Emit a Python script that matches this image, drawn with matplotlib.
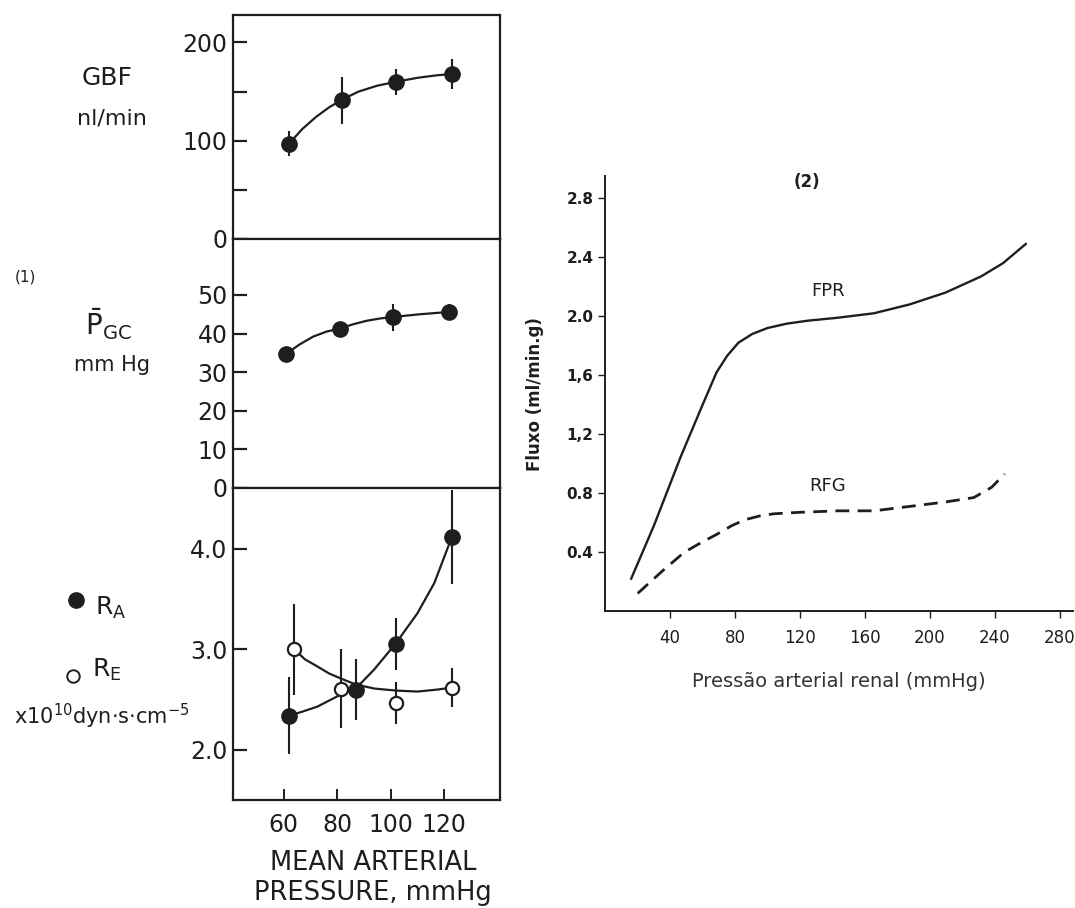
import matplotlib
matplotlib.use("Agg")
import matplotlib.pyplot as plt
from matplotlib.lines import Line2D

plt.rcParams["font.family"] = ["DejaVu Sans"]
plt.rcParams["mathtext.fontset"] = "dejavusans"

inkColor = "#1e1e1e"

# -----------------------------
# Data
# -----------------------------
# Panel (1): glomerular measurements vs mean arterial pressure
gbfPressure = [62, 82, 102, 123]
gbfValue = [97, 141, 160, 168]
gbfError = [13, 24, 13, 15]
gbfCurvePressure = [62, 67, 72, 77, 82, 88, 95, 102, 110, 117, 123]
gbfCurveValue = [97, 112, 124, 134, 142, 150, 156, 160, 164, 166.5, 168]

pgcPressure = [61, 81, 101, 122]
pgcValue = [34.8, 41.3, 44.2, 45.6]
pgcError = [1.5, 1.5, 3.5, 2.0]
pgcCurvePressure = [61, 66, 71, 76, 81, 86, 91, 96, 101, 111, 122]
pgcCurveValue = [34.8, 37.2, 39.2, 40.5, 41.3, 42.4, 43.3, 43.9, 44.3, 45.0, 45.6]

raPressure = [62, 87, 102, 123]
raValue = [2.34, 2.60, 3.05, 4.12]
raError = [0.38, 0.30, 0.26, 0.47]
raCurvePressure = [62, 67, 72.6, 77, 81.4, 87, 93.9, 102, 110.1, 116.4, 123]
raCurveValue = [2.34, 2.38, 2.43, 2.49, 2.55, 2.61, 2.80, 3.06, 3.36, 3.66, 4.12]

rePressure = [64, 81.5, 102, 123]
reValue = [3.00, 2.61, 2.47, 2.62]
reError = [0.45, 0.39, 0.21, 0.19]
reCurvePressure = [64, 68, 72.6, 77, 81.4, 87, 93.9, 102, 110.1, 117.6, 123]
reCurveValue = [3.00, 2.90, 2.83, 2.76, 2.71, 2.65, 2.61, 2.59, 2.58, 2.60, 2.62]

# Panel (2): renal flow vs renal arterial pressure
fprPressure = [16, 30, 46.6, 60, 68.6, 75, 82, 90.6, 100, 112, 125, 143.5, 165.5, 187.5, 209.5, 231.5, 245, 259]
fprFlow = [0.22, 0.58, 1.05, 1.40, 1.62, 1.73, 1.82, 1.88, 1.92, 1.95, 1.97, 1.99, 2.02, 2.08, 2.16, 2.27, 2.36, 2.49]
rfgPressure = [20, 35, 48.8, 60, 68.6, 78, 86.2, 95, 103.8, 120, 143.5, 165.5, 187.5, 209.5, 227, 238, 246]
rfgFlow = [0.12, 0.27, 0.40, 0.47, 0.52, 0.58, 0.62, 0.645, 0.66, 0.67, 0.68, 0.68, 0.71, 0.74, 0.77, 0.84, 0.93]

leftTicksX = [60, 80, 100, 120]
rightTicksX = [40, 80, 120, 160, 200, 240, 280]
rightTicksY = [0.4, 0.8, 1.2, 1.6, 2.0, 2.4, 2.8]
rightTickLabelsY = ["0.4", "0.8", "1,2", "1,6", "2.0", "2.4", "2.8"]


def styleLeftAxis(ax):
    """Box frame with inward ticks, like the original drawing."""
    for spine in ax.spines.values():
        spine.set_linewidth(1.6)
        spine.set_color(inkColor)
    ax.tick_params(axis="y", direction="in", length=10, width=1.6,
                   labelsize=17, colors=inkColor, pad=4)
    ax.tick_params(axis="x", direction="in", length=8, width=1.4,
                   labelsize=17, colors=inkColor)
    ax.set_xlim(41, 141)


def drawSeries(ax, xs, ys, errs, curveX, curveY, filled=True):
    ax.plot(curveX, curveY, color=inkColor, lw=1.6, zorder=2)
    ax.errorbar(xs, ys, yerr=errs, fmt="none", ecolor=inkColor,
                elinewidth=1.5, capsize=0, zorder=3)
    if filled:
        ax.plot(xs, ys, "o", ms=11, color=inkColor, zorder=4)
    else:
        ax.plot(xs, ys, "o", ms=9.5, mfc="white", mec=inkColor, mew=1.6, zorder=4)


fig = plt.figure(figsize=(10.75, 9.08), dpi=100)

# ---- top panel: GBF
axTop = fig.add_axes([0.2167, 0.7368, 0.2484, 0.2467])
styleLeftAxis(axTop)
drawSeries(axTop, gbfPressure, gbfValue, gbfError, gbfCurvePressure, gbfCurveValue)
axTop.set_ylim(0, 228)
axTop.set_yticks([0, 50, 100, 150, 200])
axTop.set_yticklabels(["0", "", "100", "", "200"])
axTop.set_xticks([])

# ---- middle panel: PGC
axMid = fig.add_axes([0.2167, 0.4626, 0.2484, 0.2742])
styleLeftAxis(axMid)
drawSeries(axMid, pgcPressure, pgcValue, pgcError, pgcCurvePressure, pgcCurveValue)
axMid.set_ylim(0, 64.5)
axMid.set_yticks([0, 10, 20, 30, 40, 50])
axMid.set_xticks([])

# ---- bottom panel: RA and RE
axBot = fig.add_axes([0.2167, 0.1189, 0.2484, 0.3437])
styleLeftAxis(axBot)
drawSeries(axBot, rePressure, reValue, reError,
           reCurvePressure, reCurveValue, filled=False)
drawSeries(axBot, raPressure, raValue, raError, raCurvePressure, raCurveValue)
axBot.set_ylim(1.5, 4.607)
axBot.set_yticks([2.0, 3.0, 4.0])
axBot.set_yticklabels(["2.0", "3.0", "4.0"])
axBot.set_xticks(leftTicksX)
axBot.set_xticklabels([str(v) for v in leftTicksX])
axBot.tick_params(axis="x", pad=9)

# labels of panel (1)
fig.text(0.100, 0.914, "GBF", ha="center", va="center", fontsize=18, color=inkColor)
fig.text(0.104, 0.870, "nl/min", ha="center", va="center", fontsize=16, color=inkColor)
fig.text(0.024, 0.695, "(1)", ha="center", va="center", fontsize=11, color=inkColor)
fig.text(0.101, 0.643, r"$\bar{\mathrm{P}}_{\mathrm{GC}}$", ha="center", va="center",
         fontsize=20, color=inkColor)
fig.text(0.104, 0.598, "mm Hg", ha="center", va="center", fontsize=15, color=inkColor)

fig.add_artist(Line2D([0.071], [0.339], marker="o", ms=11, color=inkColor,
                      transform=fig.transFigure))
fig.text(0.088, 0.330, r"$\mathrm{R_A}$", ha="left", va="center", fontsize=18, color=inkColor)
fig.add_artist(Line2D([0.068], [0.2555], marker="o", ms=9, mfc="white", mec=inkColor,
                      mew=1.4, transform=fig.transFigure))
fig.text(0.086, 0.262, r"$\mathrm{R_E}$", ha="left", va="center", fontsize=18, color=inkColor)
fig.text(0.095, 0.211, r"x10$^{10}$dyn$\cdot$s$\cdot$cm$^{-5}$", ha="center", va="center",
         fontsize=15, color=inkColor)

fig.text(0.347, 0.0335, "MEAN ARTERIAL\nPRESSURE, mmHg", ha="center", va="center",
         fontsize=18.5, color=inkColor, linespacing=1.2)

# ---- panel (2)
axR = fig.add_axes([0.563, 0.327, 0.435, 0.479])
axR.plot(fprPressure, fprFlow, color=inkColor, lw=1.7)
axR.plot(rfgPressure, rfgFlow, color=inkColor, lw=2.0, dashes=(5, 3))
axR.set_xlim(0, 288)
axR.set_ylim(0, 2.95)
axR.spines["top"].set_visible(False)
axR.spines["right"].set_visible(False)
for side in ["left", "bottom"]:
    axR.spines[side].set_linewidth(1.4)
    axR.spines[side].set_color(inkColor)
axR.set_xticks(rightTicksX)
axR.set_xticklabels([str(v) for v in rightTicksX], fontsize=12, color="#333333")
axR.set_yticks(rightTicksY)
axR.set_yticklabels(rightTickLabelsY, fontsize=11, fontweight="bold", color=inkColor)
axR.tick_params(axis="both", direction="out", length=5, width=1.0, colors=inkColor)
axR.tick_params(axis="x", pad=8)
axR.set_xlabel("Pressão arterial renal (mmHg)", fontsize=14, color="#333333", labelpad=18)
axR.set_ylabel("Fluxo (ml/min.g)", fontsize=12, fontweight="bold", color=inkColor, labelpad=16)
axR.text(124, 2.91, "(2)", ha="center", va="center", fontsize=12, fontweight="bold", color=inkColor)
axR.text(137, 2.17, "FPR", ha="center", va="center", fontsize=13, color=inkColor)
axR.text(137, 0.85, "RFG", ha="center", va="center", fontsize=13, color=inkColor)

fig.savefig("out.png", dpi=100, facecolor="white")
